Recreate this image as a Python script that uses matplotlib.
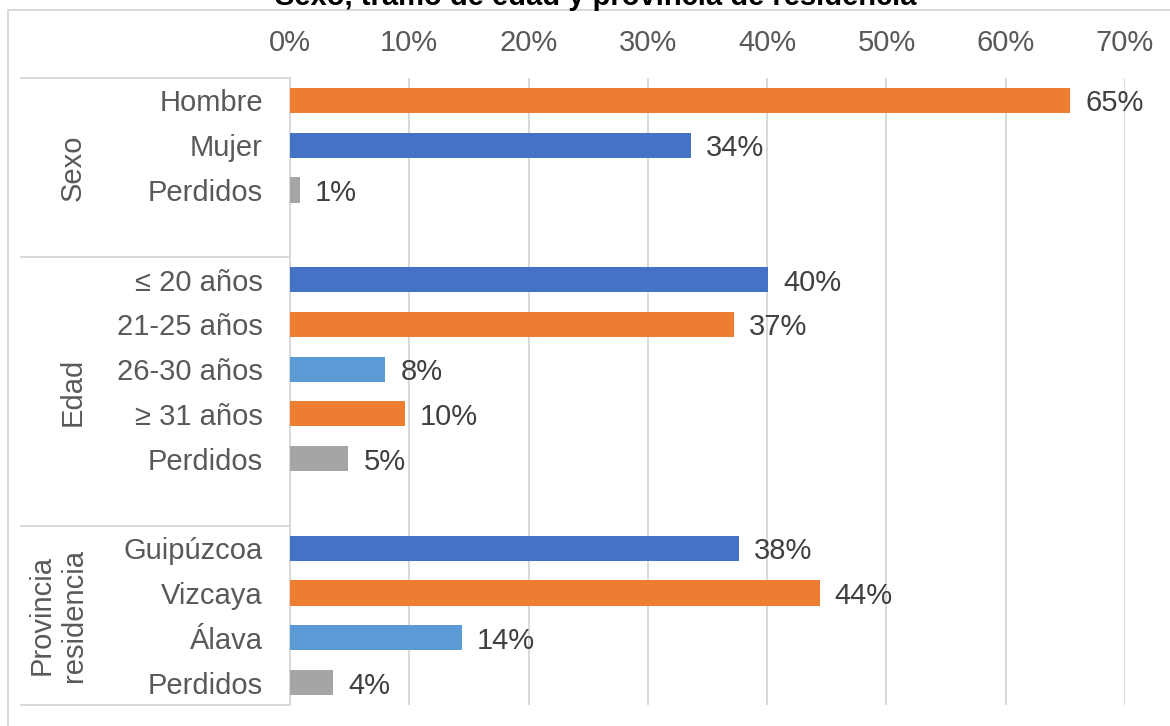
import matplotlib
matplotlib.use("Agg")
import matplotlib.pyplot as plt
from matplotlib.transforms import blended_transform_factory
from matplotlib.patches import Rectangle

plt.rcParams['font.family'] = ['Liberation Sans', 'DejaVu Sans']

# datos (porcentaje)
grupos = ['Sexo', 'Edad', 'Provincia\nresidencia']
sexo_cat = ['Hombre', 'Mujer', 'Perdidos']
sexo_val = [65.4, 33.6, 0.8]
edad_cat = ['≤ 20 años', '21-25 años', '26-30 años', '≥ 31 años', 'Perdidos']
edad_val = [40.1, 37.2, 8.0, 9.6, 4.9]
prov_cat = ['Guipúzcoa', 'Vizcaya', 'Álava', 'Perdidos']
prov_val = [37.6, 44.4, 14.4, 3.6]
ticks = [0, 10, 20, 30, 40, 50, 60, 70]

AZUL = '#4472C4'
NARANJA = '#ED7D31'
CELESTE = '#5B9BD5'
GRIS = '#A5A5A5'
sexo_col = [NARANJA, AZUL, GRIS]
edad_col = [AZUL, NARANJA, CELESTE, NARANJA, GRIS]
prov_col = [AZUL, NARANJA, CELESTE, GRIS]

W, H = 1170, 726
fig = plt.figure(figsize=(W / 100, H / 100), dpi=100)
fs = 21
txt = '#595959'
linea = '#D9D9D9'

# borde exterior del gráfico
fig.patches.append(Rectangle((8 / W, -0.05), 1.1, 1 - 10.5 / H + 0.05,
                             transform=fig.transFigure, fill=False,
                             edgecolor=linea, linewidth=1.4))

fig.text(596 / W, 1 - 5 / H, 'Sexo, tramo de edad y provincia de residencia',
         ha='center', va='baseline', fontsize=fs, fontweight='bold', color='black')

x0, x1, ytop, ybot = 290, 1125, 78, 705
ax = fig.add_axes([x0 / W, 1 - ybot / H, (x1 - x0) / W, (ybot - ytop) / H])

# posiciones con un hueco entre grupos
bloques = [(sexo_cat, sexo_val, sexo_col), (edad_cat, edad_val, edad_col),
           (prov_cat, prov_val, prov_col)]
pos, cats, vals, cols, limites, centros = [], [], [], [], [-0.5], []
p = 0
for cat, val, col in bloques:
    ini = p
    for c, v, k in zip(cat, val, col):
        pos.append(p); cats.append(c); vals.append(v); cols.append(k)
        p += 1
    if len(limites) < 3:
        p += 1
    limites.append(p - 0.5)
    centros.append((ini - 0.5 + p - 0.5) / 2)

ax.barh(pos, vals, height=0.56, color=cols, zorder=3)
for y, v in zip(pos, vals):
    ax.annotate(f'{v:.0f}%', (v, y), xytext=(10.8, 0), textcoords='offset points',
                ha='left', va='center_baseline', fontsize=fs, color='#404040')

ax.set_xlim(0, 70)
ax.set_ylim(limites[-1], -0.5)
ax.xaxis.tick_top()
ax.set_xticks(ticks)
ax.set_xticklabels([f'{t}%' for t in ticks], fontsize=fs, color=txt)
ax.tick_params(axis='x', length=0, pad=15)
ax.set_yticks(pos)
ax.set_yticklabels(cats, fontsize=fs, color=txt)
ax.tick_params(axis='y', length=0, pad=19.5)
ax.grid(axis='x', color=linea, linewidth=1.4, zorder=0)
for s in ['top', 'right', 'bottom']:
    ax.spines[s].set_visible(False)
ax.spines['left'].set_color(linea)
ax.spines['left'].set_linewidth(1.4)

# separadores de grupo a la izquierda
tr = blended_transform_factory(ax.transAxes, ax.transData)
xl = (21 - x0) / (x1 - x0)
for y in limites:
    ax.plot([xl, 0], [y, y], transform=tr, color=linea, linewidth=1.4,
            clip_on=False, zorder=1)

gx = [(72.5 - x0) / (x1 - x0), (72.5 - x0) / (x1 - x0), (57.5 - x0) / (x1 - x0)]
for g, c, x in zip(grupos, centros, gx):
    ax.text(x, c, g, transform=tr, rotation=90, ha='center', va='center',
            fontsize=fs, color=txt, multialignment='center', linespacing=1.2)

fig.savefig('out.png', dpi=100)
